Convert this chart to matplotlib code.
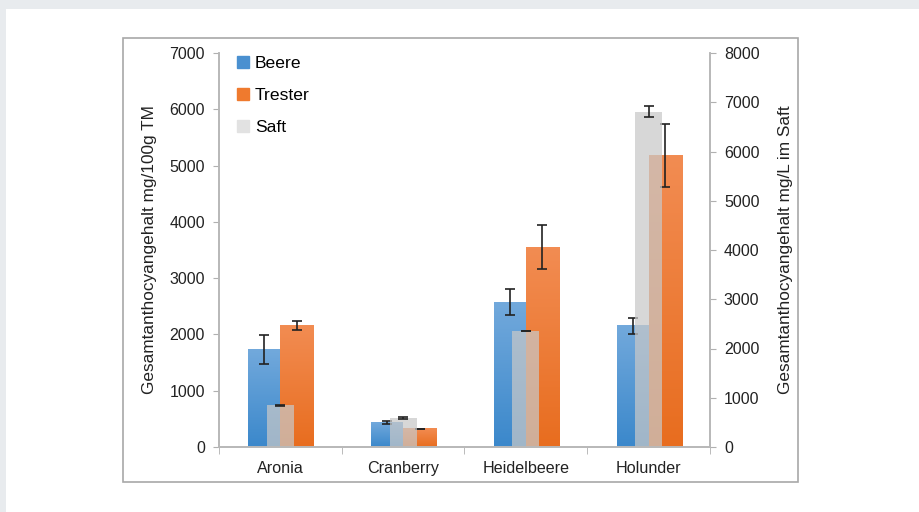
import matplotlib
matplotlib.use("Agg")
import matplotlib.pyplot as plt
import numpy as np
from matplotlib.colors import LinearSegmentedColormap
from matplotlib.patches import Rectangle, Patch

plt.rcParams["font.family"] = ["Liberation Sans", "DejaVu Sans"]

# values
categories = ["Aronia", "Cranberry", "Heidelbeere", "Holunder"]
beere = [1730, 430, 2575, 2150]
beere_err = [260, 25, 225, 150]
trester = [2165, 320, 3550, 5180]
trester_err = [80, 8, 395, 560]
saft = [850, 590, 2355, 6805]          # secondary axis, mg/L
saft_err = [12, 15, 8, 110]

fig = plt.figure(figsize=(9.19, 5.12), dpi=100)
fig.patch.set_facecolor("#e8ebee")
# white panel and chart frame
fig.add_artist(Rectangle((6 / 919, 0), 1, 1 - 9 / 512, transform=fig.transFigure,
                         facecolor="white", edgecolor="none", zorder=-10))
fig.add_artist(Rectangle((123 / 919, 1 - 482 / 512), (798 - 123) / 919, (482 - 38) / 512,
                         transform=fig.transFigure, facecolor="white",
                         edgecolor="#a8a8a8", linewidth=1.2, zorder=-9))

ax = fig.add_axes([219 / 919, 65 / 512, 491 / 919, 394 / 512])
ax.set_facecolor("none")
ax2 = ax.twinx()

x = np.arange(len(categories))
w_b, w_t, w_s = 0.26, 0.27, 0.22

blue_cm = LinearSegmentedColormap.from_list("b", ["#3b88cb", "#72a9dc"])
orange_cm = LinearSegmentedColormap.from_list("o", ["#e86d1f", "#f28c52"])


def gradient_bars(axis, bars, cmap):
    grad = np.linspace(0, 1, 100).reshape(-1, 1)
    for b in bars:
        x0, y0 = b.get_x(), b.get_y()
        axis.imshow(grad, extent=[x0, x0 + b.get_width(), y0, y0 + b.get_height()],
                    origin="lower", aspect="auto", cmap=cmap, zorder=b.get_zorder())


bb = ax.bar(x - w_b / 2, beere, w_b, color="#5a9ad6", zorder=2)
bt = ax.bar(x + w_t / 2, trester, w_t, color="#ef7d35", zorder=2)
gradient_bars(ax, bb, blue_cm)
gradient_bars(ax, bt, orange_cm)
ax.errorbar(x - w_b / 2, beere, yerr=beere_err, fmt="none", ecolor="#222222",
            elinewidth=1.2, capsize=3.5, capthick=1.2, zorder=3)
ax.errorbar(x + w_t / 2, trester, yerr=trester_err, fmt="none", ecolor="#222222",
            elinewidth=1.2, capsize=3.5, capthick=1.2, zorder=3)

ax2.bar(x, saft, w_s, color="#c8c8c8", alpha=0.72, zorder=2)
ax2.errorbar(x, saft, yerr=saft_err, fmt="none", ecolor="#222222",
             elinewidth=1.2, capsize=3.5, capthick=1.2, zorder=3)

ax.set_xlim(-0.5, 3.5)
ax.set_ylim(0, 7000)
ax2.set_ylim(0, 8000)
ax.set_yticks(range(0, 7001, 1000))
ax2.set_yticks(range(0, 8001, 1000))
ax.set_xticks(x)
ax.set_xticklabels(categories)
ax.set_xticks(np.arange(-0.5, 4, 1), minor=True)
ax.tick_params(axis="x", which="major", length=0, pad=10, labelsize=11.6, colors="#222222")
ax.tick_params(axis="x", which="minor", length=5, color="#b0b0b0", direction="out")
ax.tick_params(axis="y", length=4, color="#b0b0b0", labelsize=11.5, labelcolor="#222222", pad=6)
ax2.tick_params(axis="y", length=4, color="#b0b0b0", labelsize=11.5, labelcolor="#222222", pad=6)

for a in (ax, ax2):
    a.spines["top"].set_visible(False)
    for s in ("left", "right", "bottom"):
        a.spines[s].set_color("#b8b8b8")
        a.spines[s].set_linewidth(1.2)

ax.set_ylabel("Gesamtanthocyangehalt mg/100g TM", fontsize=12.4, color="#222222", labelpad=9)
ax2.set_ylabel("Gesamtanthocyangehalt mg/L im Saft", fontsize=12.4, color="#222222", labelpad=13)

handles = [Patch(color="#4a90d0"), Patch(color="#ef7a2e"), Patch(color="#e2e2e2")]
leg = ax.legend(handles, ["Beere", "Trester", "Saft"], loc="upper left",
                bbox_to_anchor=(0.005, 1.032), frameon=False, fontsize=12.6,
                handlelength=0.7, handleheight=0.7, handletextpad=0.3, labelspacing=0.95)

fig.savefig("out.png", dpi=100, facecolor=fig.get_facecolor())
